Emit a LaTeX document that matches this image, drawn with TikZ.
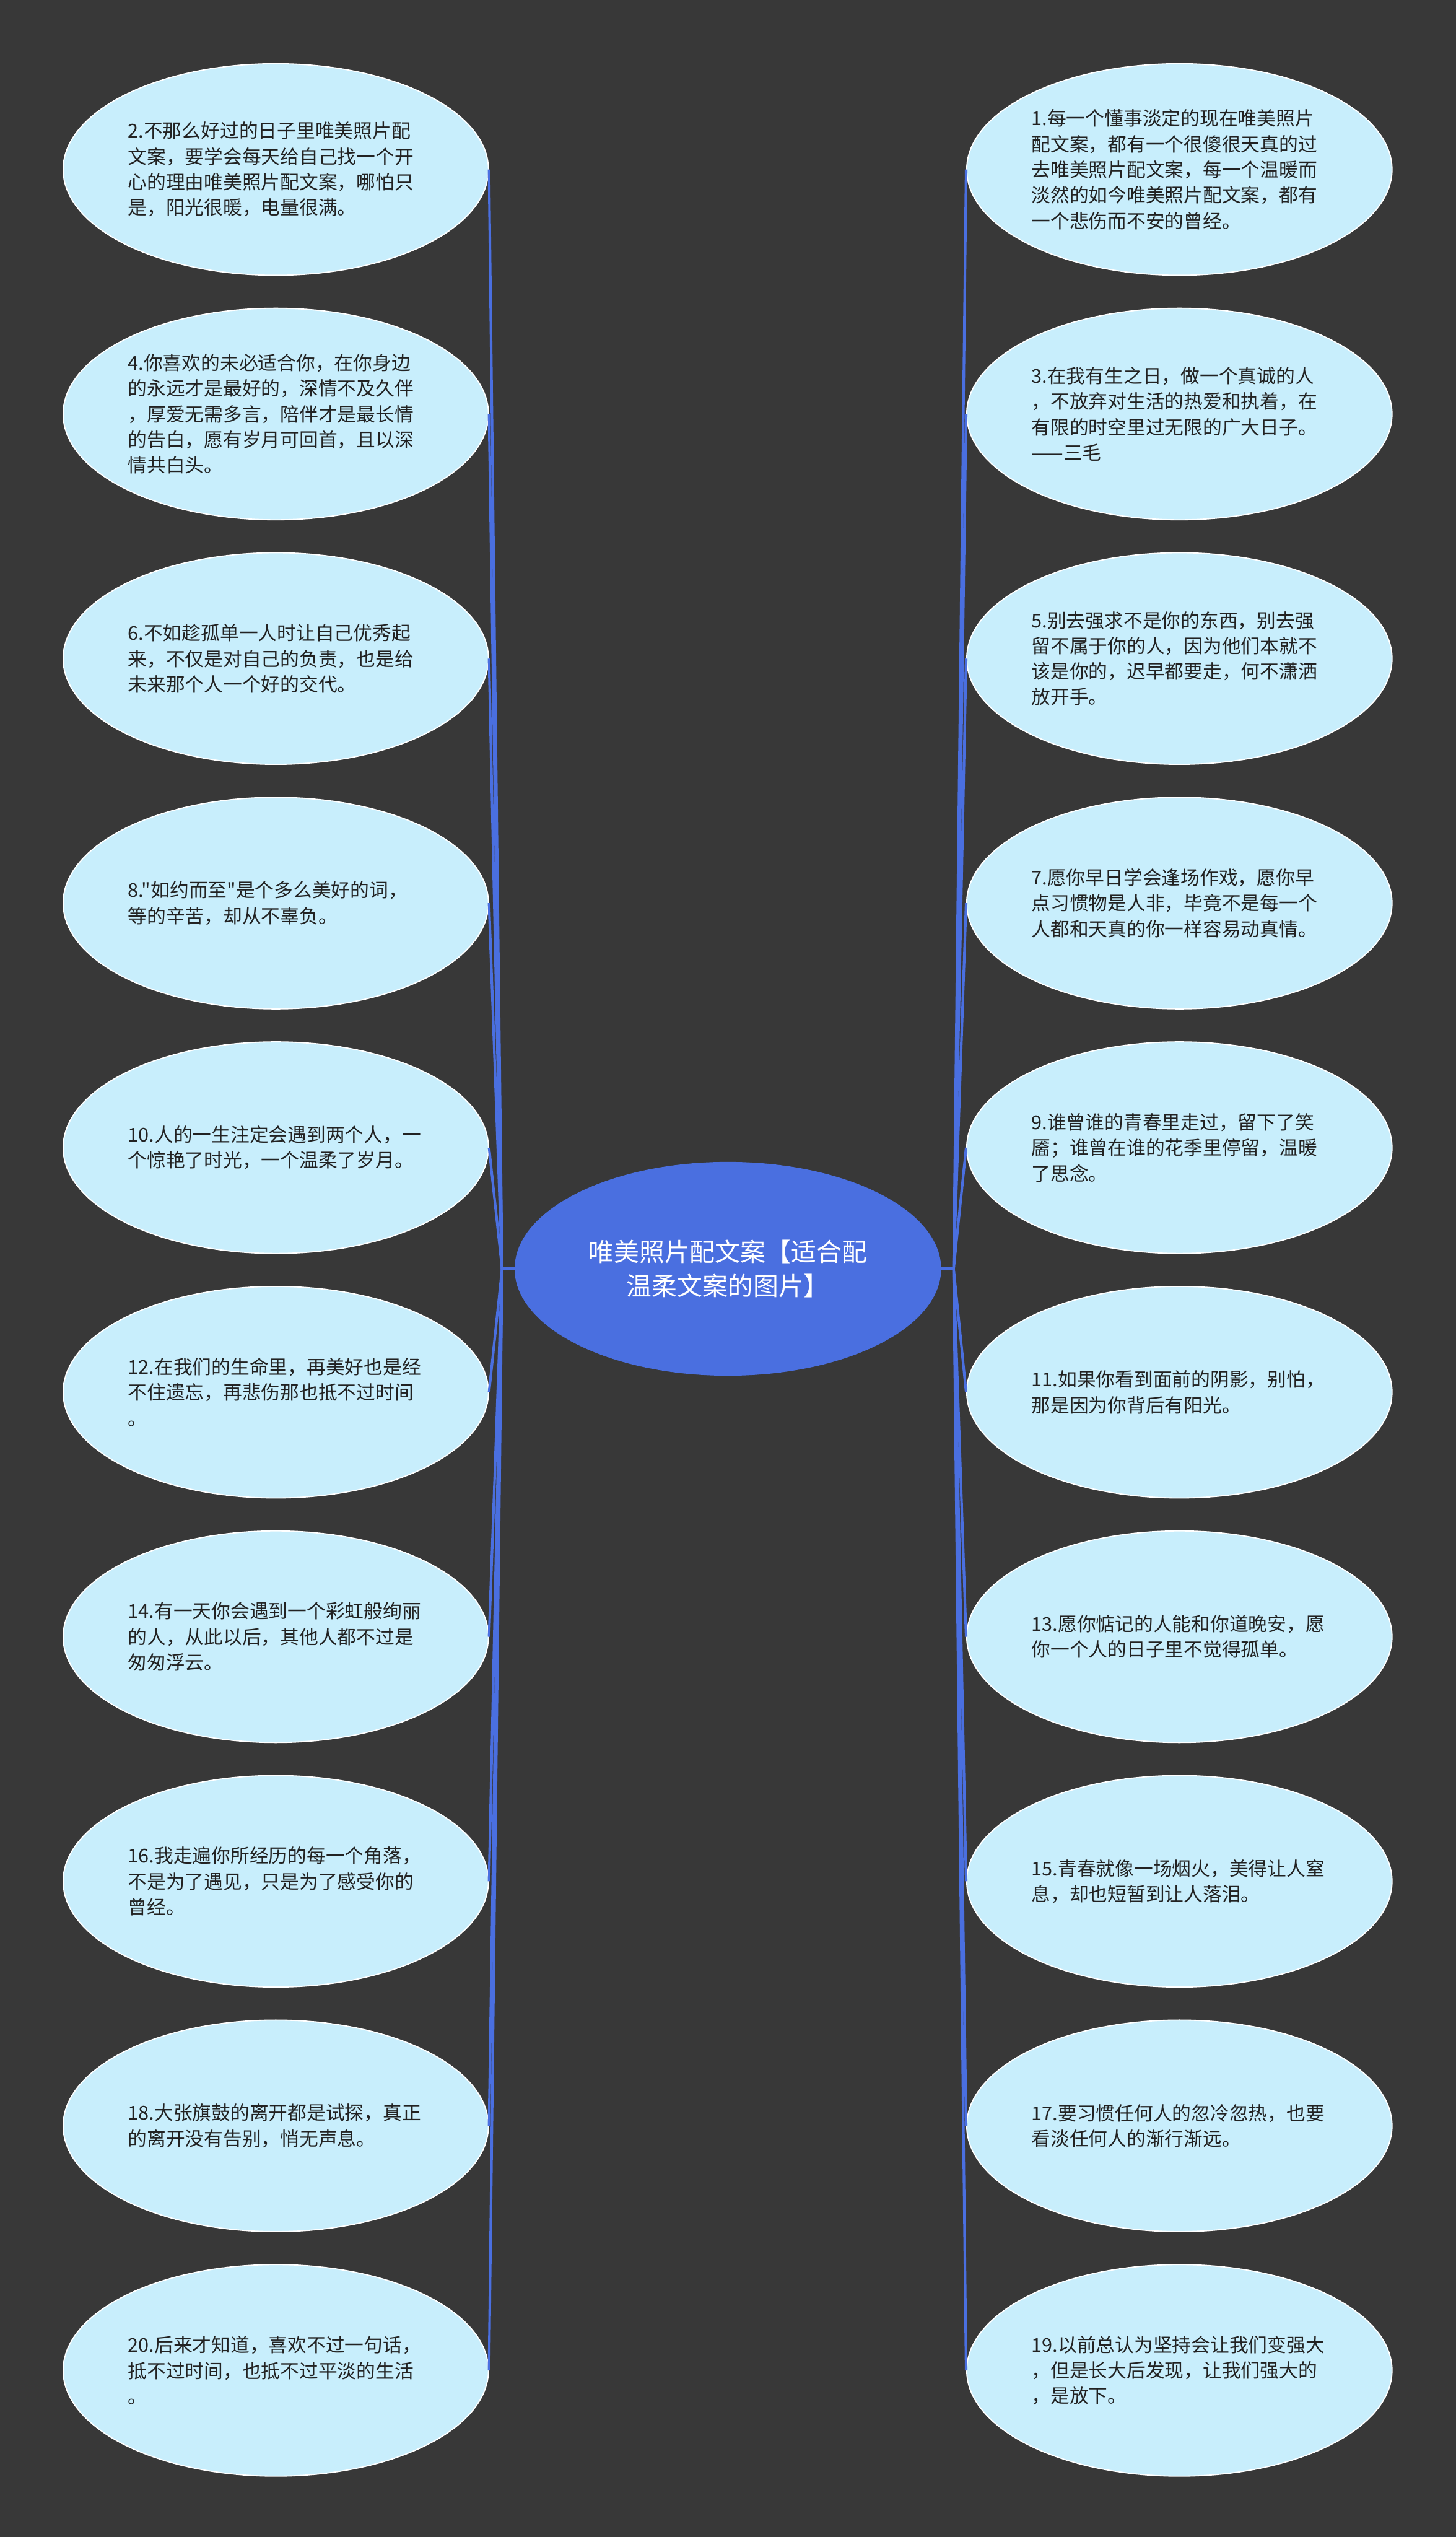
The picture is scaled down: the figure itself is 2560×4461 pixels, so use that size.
\documentclass[tikz,border=0pt]{standalone}
\usepackage{fontspec}
\newfontfamily\cjk{Noto Sans CJK SC}
\usetikzlibrary{shapes.geometric}
\definecolor{bgc}{HTML}{383838}
\definecolor{leaffill}{HTML}{C8EEFC}
\definecolor{rootfill}{HTML}{4A6FE0}
\definecolor{linec}{HTML}{4A6FE0}
\definecolor{txt}{HTML}{222222}
\tikzset{
  leaf/.style={ellipse, draw=white, line width=2pt, fill=leaffill, inner sep=0pt,
    minimum width=748pt, minimum height=372pt, text width=520pt, align=left,
    text=txt, font=\cjk\fontsize{33.5}{45}\selectfont},
  rootnode/.style={ellipse, draw=rootfill, line width=2pt, fill=rootfill, inner sep=0pt,
    minimum width=748pt, minimum height=374pt, align=center,
    text=white, font=\cjk\fontsize{44.5}{60}\selectfont},
  conn/.style={draw=linec, line width=4.5pt, line join=round}
}
\begin{document}
\begin{tikzpicture}[x=1pt,y=-1pt]
\useasboundingbox[fill=bgc] (0,0) rectangle (2560,4461);

\node[rootnode] (root) at (1280,2231) {唯美照片配文案【适合配\\温柔文案的图片】};
\coordinate (lstub) at ([xshift=-22pt]root.west);
\coordinate (rstub) at ([xshift=22pt]root.east);

% left column
\node[leaf] (L1) at (485,298) {2.不那么好过的日子里唯美照片配\\文案，要学会每天给自己找一个开\\心的理由唯美照片配文案，哪怕只\\是，阳光很暖，电量很满。};
\node[leaf] (L2) at (485,728) {4.你喜欢的未必适合你，在你身边\\的永远才是最好的，深情不及久伴\\，厚爱无需多言，陪伴才是最长情\\的告白，愿有岁月可回首，且以深\\情共白头。};
\node[leaf] (L3) at (485,1158) {6.不如趁孤单一人时让自己优秀起\\来，不仅是对自己的负责，也是给\\未来那个人一个好的交代。};
\node[leaf] (L4) at (485,1588) {8."如约而至"是个多么美好的词，\\等的辛苦，却从不辜负。};
\node[leaf] (L5) at (485,2018) {10.人的一生注定会遇到两个人，一\\个惊艳了时光，一个温柔了岁月。};
\node[leaf] (L6) at (485,2448) {12.在我们的生命里，再美好也是经\\不住遗忘，再悲伤那也抵不过时间\\。};
\node[leaf] (L7) at (485,2878) {14.有一天你会遇到一个彩虹般绚丽\\的人，从此以后，其他人都不过是\\匆匆浮云。};
\node[leaf] (L8) at (485,3308) {16.我走遍你所经历的每一个角落，\\不是为了遇见，只是为了感受你的\\曾经。};
\node[leaf] (L9) at (485,3738) {18.大张旗鼓的离开都是试探，真正\\的离开没有告别，悄无声息。};
\node[leaf] (L10) at (485,4168) {20.后来才知道，喜欢不过一句话，\\抵不过时间，也抵不过平淡的生活\\。};

% right column
\node[leaf] (R1) at (2074,298) {1.每一个懂事淡定的现在唯美照片\\配文案，都有一个很傻很天真的过\\去唯美照片配文案，每一个温暖而\\淡然的如今唯美照片配文案，都有\\一个悲伤而不安的曾经。};
\node[leaf] (R2) at (2074,728) {3.在我有生之日，做一个真诚的人\\，不放弃对生活的热爱和执着，在\\有限的时空里过无限的广大日子。\\——三毛};
\node[leaf] (R3) at (2074,1158) {5.别去强求不是你的东西，别去强\\留不属于你的人，因为他们本就不\\该是你的，迟早都要走，何不潇洒\\放开手。};
\node[leaf] (R4) at (2074,1588) {7.愿你早日学会逢场作戏，愿你早\\点习惯物是人非，毕竟不是每一个\\人都和天真的你一样容易动真情。};
\node[leaf] (R5) at (2074,2018) {9.谁曾谁的青春里走过，留下了笑\\靥；谁曾在谁的花季里停留，温暖\\了思念。};
\node[leaf] (R6) at (2074,2448) {11.如果你看到面前的阴影，别怕，\\那是因为你背后有阳光。};
\node[leaf] (R7) at (2074,2878) {13.愿你惦记的人能和你道晚安，愿\\你一个人的日子里不觉得孤单。};
\node[leaf] (R8) at (2074,3308) {15.青春就像一场烟火，美得让人窒\\息，却也短暂到让人落泪。};
\node[leaf] (R9) at (2074,3738) {17.要习惯任何人的忽冷忽热，也要\\看淡任何人的渐行渐远。};
\node[leaf] (R10) at (2074,4168) {19.以前总认为坚持会让我们变强大\\，但是长大后发现，让我们强大的\\，是放下。};

% connectors
\foreach \k in {1,...,10} {
  \draw[conn] (root.west) -- (lstub) -- (L\k.east);
  \draw[conn] (root.east) -- (rstub) -- (R\k.west);
}
\end{tikzpicture}
\end{document}
